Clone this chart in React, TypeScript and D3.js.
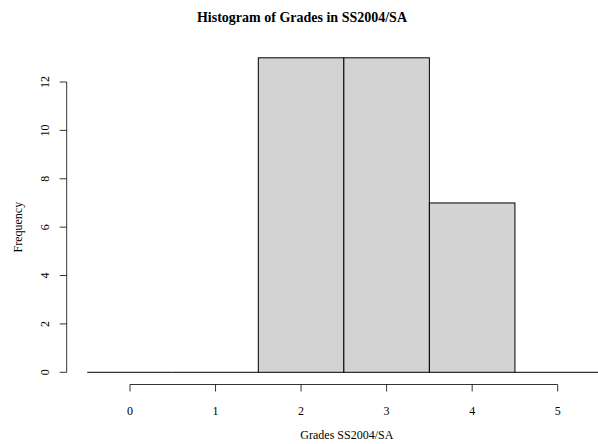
import React from "react";
import * as d3 from "d3";

const binStarts = [-0.5, 0.5, 1.5, 2.5, 3.5, 4.5];
const binWidth = 1;
const counts = [0, 0, 13, 13, 7, 0];
const xTicks = [0, 1, 2, 3, 4, 5];
const yTicks = [0, 2, 4, 6, 8, 10, 12];
const title = "Histogram of Grades in SS2004/SA";
const xLabel = "Grades SS2004/SA";
const yLabel = "Frequency";

const W = 598;
const H = 444;

export default function App() {
  const x = d3.scaleLinear().domain([0, 5]).range([130, 557.7]);
  const y = d3.scaleLinear().domain([0, 12]).range([372.3, 82]);
  const font = "'Liberation Serif', 'DejaVu Serif', serif";
  const axisY = 384.5;
  const axisX = 66.7;
  return (
    <svg
      width={W}
      height={H}
      style={{ position: "absolute", left: 0, top: 0, background: "#fff" }}
      fontFamily={font}
    >
      <rect x={0} y={0} width={W} height={H} fill="#fff" />
      <text x={W / 2 + 3} y={22} textAnchor="middle" fontWeight="bold" fontSize={14}>
        {title}
      </text>
      {binStarts.map((b, i) => {
        const x0 = x(b);
        const x1 = x(b + binWidth);
        const y0 = y(0);
        const y1 = y(counts[i]);
        if (counts[i] === 0) {
          return <line key={i} x1={x0} x2={x1} y1={y0} y2={y0} stroke="#000" strokeWidth={1} />;
        }
        return (
          <rect
            key={i}
            x={x0}
            y={y1}
            width={x1 - x0}
            height={y0 - y1}
            fill="#d3d3d3"
            stroke="#000"
            strokeWidth={1}
          />
        );
      })}
      {/* x axis */}
      <line x1={x(0)} x2={x(5)} y1={axisY} y2={axisY} stroke="#000" strokeWidth={0.8} />
      {xTicks.map((t) => (
        <g key={t}>
          <line x1={x(t)} x2={x(t)} y1={axisY} y2={axisY + 7} stroke="#000" strokeWidth={0.8} />
          <text x={x(t)} y={axisY + 30} textAnchor="middle" fontSize={12}>
            {t}
          </text>
        </g>
      ))}
      {/* y axis */}
      <line x1={axisX} x2={axisX} y1={y(0)} y2={y(12)} stroke="#000" strokeWidth={0.8} />
      {yTicks.map((t) => (
        <g key={t}>
          <line x1={axisX} x2={axisX - 7} y1={y(t)} y2={y(t)} stroke="#000" strokeWidth={0.8} />
          <text
            transform={`translate(${axisX - 18},${y(t)}) rotate(-90)`}
            textAnchor="middle"
            fontSize={12}
          >
            {t}
          </text>
        </g>
      ))}
      <text x={(x(0) + x(5)) / 2 + 3} y={439} textAnchor="middle" fontSize={12}>
        {xLabel}
      </text>
      <text
        transform={`translate(22,${(y(0) + y(12)) / 2}) rotate(-90)`}
        textAnchor="middle"
        fontSize={12}
      >
        {yLabel}
      </text>
    </svg>
  );
}
